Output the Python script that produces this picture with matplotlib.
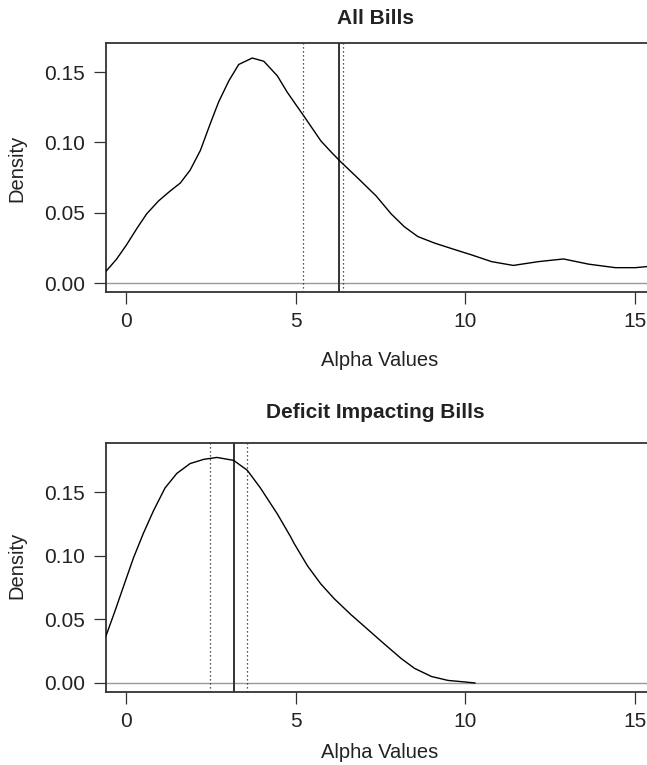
import numpy as np
import matplotlib
matplotlib.use("Agg")
import matplotlib.pyplot as plt

plt.rcParams['font.family'] = ['Liberation Sans Narrow', 'Liberation Sans', 'DejaVu Sans']

# density estimate, all bills
all_x = [-0.59, -0.28, 0.02, 0.32, 0.61, 0.96, 1.30, 1.60, 1.89, 2.19, 2.49, 2.73,
         3.03, 3.32, 3.72, 4.06, 4.46, 4.75, 5.0, 5.25, 5.74, 6.05, 6.33, 6.83, 7.37,
         7.81, 8.20, 8.60, 9.09, 9.68, 10.18, 10.77, 11.41, 12.15, 12.89, 13.63,
         14.42, 15.01, 15.40]
all_y = [0.0083, 0.0169, 0.0273, 0.0388, 0.0492, 0.0584, 0.0654, 0.0711, 0.0803,
         0.0942, 0.1138, 0.1288, 0.1438, 0.1554, 0.1600, 0.1577, 0.1473, 0.1357,
         0.1270, 0.1184, 0.1011, 0.0930, 0.0861, 0.0746, 0.0619, 0.0492, 0.0400,
         0.0330, 0.0284, 0.0238, 0.0200, 0.0152, 0.0125, 0.0152, 0.0171, 0.0134,
         0.0109, 0.0109, 0.0118]
all_lines = [5.22, 6.27, 6.40]  # lower CI, mean, upper CI

# density estimate, deficit impacting bills
def_x = [-0.59, -0.33, -0.03, 0.22, 0.51, 0.81, 1.15, 1.50, 1.89, 2.29, 2.68, 3.17,
         3.57, 3.96, 4.46, 4.85, 4.95, 5.35, 5.74, 6.13, 6.63, 7.12, 7.61, 8.11,
         8.50, 9.0, 9.49, 9.98, 10.28]
def_y = [0.0370, 0.0562, 0.0793, 0.0984, 0.1176, 0.1355, 0.1534, 0.1649, 0.1726,
         0.1759, 0.1774, 0.1751, 0.1674, 0.1534, 0.1329, 0.1150, 0.1099, 0.0920,
         0.0779, 0.0664, 0.0537, 0.0422, 0.0307, 0.0192, 0.0115, 0.0051, 0.0020,
         0.0008, 0.0]
def_lines = [2.48, 3.18, 3.56]

xticks = [0, 5, 10, 15]
yticks = [0.00, 0.05, 0.10, 0.15]

W, H = 647, 765
fig = plt.figure(figsize=(W / 100, H / 100), dpi=100)


def panel(rect, xs, ys, lines, title, title_y, xlab_y, ylab_y):
    ax = fig.add_axes(rect)
    ax.axhline(0, color='#999999', lw=1.0, zorder=1)
    ax.plot(xs, ys, color='black', lw=1.0, zorder=3)
    ax.axvline(lines[0], color='#222222', lw=0.9, ls=(0, (1, 2.2)))
    ax.axvline(lines[1], color='#333333', lw=1.4)
    ax.axvline(lines[2], color='#222222', lw=0.9, ls=(0, (1, 2.2)))
    top = max(ys)
    ax.set_ylim(-0.04 * top, top * 1.04 + 0.0045)
    ax.set_xlim(-0.604, 15.35)
    ax.set_xticks(xticks)
    ax.set_xticklabels([str(t) for t in xticks])
    ax.set_yticks(yticks)
    ax.set_yticklabels(['%.2f' % t for t in yticks])
    ax.spines['right'].set_visible(False)
    for s in ['left', 'top', 'bottom']:
        ax.spines[s].set_color('#333333')
        ax.spines[s].set_linewidth(1.3)
    ax.tick_params(axis='both', length=8.5, width=0.9, color='#333333',
                   labelsize=15, pad=6, labelcolor='#222222')
    fig.text(0.58, 1 - title_y / H, title, ha='center', va='center',
             fontsize=15, fontweight='bold', color='#222222')
    fig.text(0.587, 1 - xlab_y / H, 'Alpha Values', ha='center', va='center',
             fontsize=14.5, color='#222222')
    fig.text(16.5 / W, 1 - ylab_y / H, 'Density', ha='center', va='center',
             rotation=90, fontsize=14.5, color='#222222')
    return ax


ax1 = panel([105.5 / W, 1 - 292 / H, (W - 105.5) / W, 249.3 / H],
            all_x, all_y, all_lines, 'All Bills', 18, 360, 168)
ax2 = panel([105.5 / W, 1 - 692 / H, (W - 105.5) / W, 249.3 / H],
            def_x, def_y, def_lines, 'Deficit Impacting Bills', 413, 752, 565)

fig.savefig('out.png', dpi=100)
